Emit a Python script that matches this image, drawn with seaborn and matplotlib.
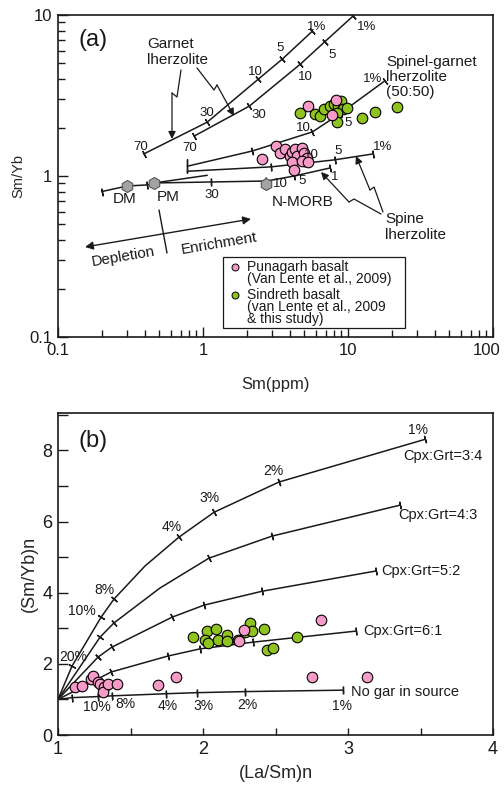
import matplotlib
matplotlib.use("Agg")
import numpy as np
import matplotlib.pyplot as plt
import seaborn as sns
from matplotlib.lines import Line2D
from matplotlib.patches import FancyArrowPatch, Rectangle
from matplotlib.transforms import ScaledTranslation
from matplotlib.ticker import FixedLocator, NullFormatter, FixedFormatter, MultipleLocator

sns.set_theme(style="ticks")
plt.rcParams["font.family"] = ["Liberation Sans", "DejaVu Sans"]

PINK = "#F69AC8"
GREEN = "#8FC31F"
INK = "#1a1a1a"

# ---------------- (a) Sm vs Sm/Yb ----------------
punagarh_sm = [2.57, 3.21, 3.42, 3.65, 3.95, 4.14, 4.34, 4.48, 4.78, 5.01, 5.18,
               4.08, 4.78, 5.34, 4.27, 5.26, 8.21, 7.71]
punagarh_smyb = [1.28, 1.54, 1.39, 1.47, 1.33, 1.41, 1.47, 1.33, 1.49, 1.39, 1.29,
                 1.22, 1.24, 1.22, 1.09, 2.72, 2.97, 2.39]
sindreth_sm = [4.63, 5.88, 6.36, 6.78, 7.46, 7.95, 8.48, 8.89, 9.18, 9.78, 8.34,
               8.34, 12.4, 15.3, 21.7]
sindreth_smyb = [2.46, 2.43, 2.36, 2.61, 2.72, 2.80, 2.72, 2.92, 2.61, 2.64, 2.46,
                 2.16, 2.29, 2.50, 2.68]

reservoir_names = ["DM", "PM", "N-MORB"]
reservoir_sm = [0.30, 0.46, 2.74]
reservoir_smyb = [0.867, 0.905, 0.89]

# melting trajectories (Sm, Sm/Yb); vertices are the marked melt fractions
garnet1_sm = [0.39, 1.07, 2.41, 3.53, 5.69]
garnet1_smyb = [1.37, 2.16, 4.00, 5.33, 7.95]
garnet2_sm = [0.87, 2.09, 4.70, 6.89, 10.9]
garnet2_smyb = [1.77, 2.72, 4.96, 6.80, 9.90]
spgt_sm = [0.78, 2.19, 5.69, 8.75, 17.9]
spgt_smyb = [1.15, 1.43, 1.88, 2.43, 3.89]
spinel_sm = [0.78, 2.96, 5.01, 8.08, 14.8]
spinel_smyb = [1.07, 1.14, 1.20, 1.26, 1.37]
mantle_sm = [0.20, 0.30, 0.41, 0.46, 1.14, 2.74, 4.27, 7.46]
mantle_smyb = [0.80, 0.867, 0.88, 0.905, 0.918, 0.931, 1.00, 1.12]
pm_branch_sm = [0.46, 1.07]
pm_branch_smyb = [0.905, 1.01]

# ---------------- (b) (La/Sm)n vs (Sm/Yb)n ----------------
punagarh_lasm = [1.117, 1.166, 1.228, 1.241, 1.276, 1.290, 1.317, 1.310, 1.345, 1.407,
                 1.690, 1.814, 2.283, 2.248, 2.814, 2.752, 3.131]
punagarh_smybn = [1.35, 1.38, 1.57, 1.66, 1.49, 1.43, 1.35, 1.21, 1.43, 1.43,
                  1.40, 1.63, 2.95, 2.64, 3.23, 1.63, 1.63]
sindreth_lasm = [1.931, 2.028, 2.090, 2.014, 2.034, 2.103, 2.166, 2.166, 2.241, 2.290,
                 2.324, 2.338, 2.421, 2.648, 2.441, 2.483]
sindreth_smybn = [2.75, 2.92, 2.98, 2.67, 2.58, 2.67, 2.81, 2.64, 2.67, 2.89,
                  3.15, 2.92, 2.98, 2.75, 2.39, 2.44]

cg34_lasm = [1.0, 1.097, 1.297, 1.386, 1.600, 1.834, 2.076, 2.524, 3.531]
cg34_smyb = [1.0, 1.94, 3.31, 3.82, 4.75, 5.56, 6.26, 7.11, 8.31]
cg34_ticks = [1, 2, 3, 5, 6, 7, 8]
cg43_lasm = [1.0, 1.290, 1.386, 1.703, 2.041, 2.476, 3.359]
cg43_smyb = [1.0, 2.75, 3.15, 4.13, 4.97, 5.59, 6.46]
cg43_ticks = [1, 2, 4, 5, 6]
cg52_lasm = [1.0, 1.276, 1.372, 1.786, 2.007, 2.407, 3.193]
cg52_smyb = [1.0, 2.19, 2.47, 3.31, 3.65, 4.04, 4.61]
cg52_ticks = [1, 2, 3, 4, 5, 6]
cg61_lasm = [1.0, 1.366, 1.759, 1.979, 2.345, 3.055]
cg61_smyb = [1.0, 1.77, 2.22, 2.42, 2.61, 2.92]
cg61_ticks = [1, 2, 3, 4, 5]
nogar_lasm = [1.0, 1.097, 1.276, 1.372, 1.745, 1.959, 2.290, 2.966]
nogar_smyb = [1.0, 1.05, 1.08, 1.10, 1.16, 1.19, 1.22, 1.26]
nogar_ticks = [1, 2, 3, 4, 5, 6, 7]

W, H = 504, 795
fig = plt.figure(figsize=(W / 100, H / 100), dpi=100)


def F(x, y):
    """pixel position on the page -> figure fraction"""
    return (x / W, 1 - y / H)


ax_a = fig.add_axes([58 / W, 1 - 337 / H, 435 / W, 322 / H])
ax_b = fig.add_axes([58 / W, 1 - 735 / H, 435 / W, 322 / H])

for ax in (ax_a, ax_b):
    for s in ax.spines.values():
        s.set_linewidth(1.2)
        s.set_color(INK)
    ax.tick_params(which="both", direction="in", top=False, right=False,
                   color=INK, width=1.0, labelcolor=INK)

# ---- axes (a) ----
ax_a.set_xscale("log")
ax_a.set_yscale("log")
ax_a.set_xlim(0.1, 100)
ax_a.set_ylim(0.1, 10)
ax_a.xaxis.set_major_locator(FixedLocator([0.1, 1, 10, 100]))
ax_a.xaxis.set_major_formatter(FixedFormatter(["0.1", "1", "10", "100"]))
ax_a.yaxis.set_major_locator(FixedLocator([0.1, 1, 10]))
ax_a.yaxis.set_major_formatter(FixedFormatter(["0.1", "1", "10"]))
ax_a.xaxis.set_minor_formatter(NullFormatter())
ax_a.yaxis.set_minor_formatter(NullFormatter())
ax_a.tick_params(which="major", length=7, labelsize=12, pad=4)
ax_a.tick_params(which="minor", length=5)
ax_a.set_xlabel("Sm(ppm)", fontsize=12, labelpad=14)
ax_a.set_ylabel("Sm/Yb", fontsize=10.5, labelpad=3)
# keep the last x label ("100") inside the page
last = ax_a.get_xticklabels()[-1]
last.set_transform(last.get_transform() + ScaledTranslation(-6 / 100, 0, fig.dpi_scale_trans))

# ---- axes (b) ----
ax_b.set_xlim(1, 4)
ax_b.set_ylim(0, 9.05)
ax_b.xaxis.set_major_locator(MultipleLocator(1))
ax_b.xaxis.set_minor_locator(MultipleLocator(0.5))
ax_b.yaxis.set_major_locator(MultipleLocator(2))
ax_b.yaxis.set_minor_locator(MultipleLocator(1))
ax_b.tick_params(axis="x", which="both", length=5)
ax_b.tick_params(axis="y", which="both", length=7)
ax_b.tick_params(which="major", labelsize=13, pad=4)
ax_b.set_xlabel("(La/Sm)n", fontsize=13, labelpad=5)
ax_b.set_ylabel("(Sm/Yb)n", fontsize=13, labelpad=3)


def curve(ax, xs, ys, ticks, ms=5.5):
    sns.lineplot(x=xs, y=ys, ax=ax, sort=False, estimator=None, color=INK,
                 lw=1.1, zorder=2, legend=False)
    pts = ax.transData.transform(np.column_stack([xs, ys]))
    n = len(xs)
    for i in ticks:
        a, b = max(i - 1, 0), min(i + 1, n - 1)
        d = pts[b] - pts[a]
        ang = np.degrees(np.arctan2(d[1], d[0]))
        ax.plot([xs[i]], [ys[i]], marker=(2, 2, ang), ms=ms, mew=1.0,
                color=INK, zorder=2, linestyle="none")


# model curves in (a)
curve(ax_a, garnet1_sm, garnet1_smyb, range(5))
curve(ax_a, garnet2_sm, garnet2_smyb, range(5))
curve(ax_a, spgt_sm, spgt_smyb, [1, 2, 3, 4])
curve(ax_a, spinel_sm, spinel_smyb, [1, 2, 3, 4])
curve(ax_a, spgt_sm[:1], spgt_smyb[:1], [0], ms=10)
curve(ax_a, mantle_sm, mantle_smyb, [0, 2, 4, 5, 6, 7])
sns.lineplot(x=pm_branch_sm, y=pm_branch_smyb, ax=ax_a, sort=False, estimator=None,
             color=INK, lw=1.1, zorder=2, legend=False)

sns.scatterplot(x=reservoir_sm, y=reservoir_smyb, ax=ax_a, marker="h", s=75,
                color="#a3a3a3", edgecolor="#555555", linewidth=0.8, zorder=4, legend=False)
sns.scatterplot(x=sindreth_sm, y=sindreth_smyb, ax=ax_a, s=58, color=GREEN,
                edgecolor="black", linewidth=0.8, zorder=5, legend=False)
sns.scatterplot(x=punagarh_sm, y=punagarh_smyb, ax=ax_a, s=58, color=PINK,
                edgecolor="black", linewidth=0.8, zorder=6, legend=False)

# model curves in (b)
curve(ax_b, cg34_lasm, cg34_smyb, cg34_ticks)
curve(ax_b, cg43_lasm, cg43_smyb, cg43_ticks)
curve(ax_b, cg52_lasm, cg52_smyb, cg52_ticks)
curve(ax_b, cg61_lasm, cg61_smyb, cg61_ticks)
curve(ax_b, nogar_lasm, nogar_smyb, nogar_ticks)

sns.scatterplot(x=sindreth_lasm, y=sindreth_smybn, ax=ax_b, s=58, color=GREEN,
                edgecolor="black", linewidth=0.8, zorder=5, legend=False)
sns.scatterplot(x=punagarh_lasm, y=punagarh_smybn, ax=ax_b, s=58, color=PINK,
                edgecolor="black", linewidth=0.8, zorder=6, legend=False)


def label(x, y, s, size=9.5, ha="center", va="center", **kw):
    return fig.text(*F(x, y), s, fontsize=size, ha=ha, va=va, color=INK, **kw)


def bolt(points, end, lw=0.9):
    xs, ys = zip(*[F(*p) for p in points])
    fig.add_artist(Line2D(xs, ys, transform=fig.transFigure, color=INK, lw=lw))
    fig.add_artist(FancyArrowPatch(F(*points[-1]), F(*end), transform=fig.transFigure,
                                   arrowstyle="-|>", mutation_scale=11, color=INK,
                                   lw=lw, shrinkA=0, shrinkB=0))


# ---- panel (a) annotation ----
label(93, 40, "(a)", size=17)
label(147, 52, "Garnet\nlherzolite", size=11, ha="left", linespacing=1.2)
label(386, 77, "Spinel-garnet\nlherzolite\n(50:50)", size=11, ha="left", linespacing=1.1)
label(385, 227, "Spine\nlherzolite", size=11, ha="left", linespacing=1.15)
bolt([(181, 70), (177, 97), (172, 93)], (172, 139))
bolt([(197, 68), (214, 90), (217, 85)], (234, 116))
bolt([(381, 214), (354, 199), (349, 202)], (321, 172))
bolt([(383, 212), (374, 187), (370, 190)], (356, 156))

for txt, pos in zip(["70", "30", "10", "5", "1%"],
                    [(141, 147), (207, 113), (255, 72), (280, 48), (317, 27)]):
    label(*pos, txt)
for txt, pos in zip(["70", "30", "10", "5", "1%"],
                    [(190, 148), (259, 115), (305, 77), (332, 55), (367, 27)]):
    label(*pos, txt)
for txt, pos in zip(["10", "5", "1%"], [(303, 128), (348, 123), (373, 79)]):
    label(*pos, txt)
for txt, pos in zip(["10", "5", "1%"], [(311, 155), (338, 151), (383, 147)]):
    label(*pos, txt, zorder=1)
for txt, pos in zip(["30", "10", "5", "1"], [(212, 195), (280, 184), (302, 181), (335, 177)]):
    label(*pos, txt)

for name, pos in zip(reservoir_names, [(125, 199), (168, 197), (303, 202)]):
    label(*pos, name, size=11)

fig.add_artist(FancyArrowPatch(F(85, 247), F(251, 219), transform=fig.transFigure,
                               arrowstyle="<|-|>", mutation_scale=12, color=INK, lw=1.0,
                               shrinkA=0, shrinkB=0))
fig.add_artist(Line2D(*zip(F(159, 210), F(167, 253)), transform=fig.transFigure,
                      color=INK, lw=1.0))
label(123, 257, "Depletion", size=11, rotation=9.6, rotation_mode="anchor")
label(219, 244, "Enrichment", size=11, rotation=9.6, rotation_mode="anchor")

# key box
x0, y0 = F(223, 328)
x1, y1 = F(405, 257)
fig.add_artist(Rectangle((x0, y0), x1 - x0, y1 - y0, transform=fig.transFigure,
                         facecolor="white", edgecolor=INK, lw=0.9, zorder=7))
for pos, col in [((235, 267), PINK), ((235, 295), GREEN)]:
    fig.add_artist(Line2D([F(*pos)[0]], [F(*pos)[1]], transform=fig.transFigure,
                          marker="o", ms=5, mfc=col, mec="black", mew=0.7,
                          ls="none", zorder=8))
label(247, 260, "Punagarh basalt\n(Van Lente et al., 2009)", size=10, ha="left",
      va="top", linespacing=0.82, zorder=8)
label(247, 288, "Sindreth basalt\n(van Lente et al., 2009\n& this study)", size=10,
      ha="left", va="top", linespacing=0.82, zorder=8)

# ---- panel (b) annotation ----
label(93, 441, "(b)", size=17)
for txt, pos in zip(["1%", "2%", "3%", "4%", "8%", "10%", "20%"],
                    [(418, 430), (273, 471), (209, 498), (172, 527), (104, 590),
                     (82, 611), (73, 657)]):
    label(*pos, txt, size=10)
for txt, pos in zip(["10%", "8%", "4%", "3%", "2%", "1%"],
                    [(97, 707), (125, 704), (168, 706), (203, 706), (247, 705), (342, 706)]):
    label(*pos, txt, size=10)
for txt, pos in zip(["Cpx:Grt=3:4", "Cpx:Grt=4:3", "Cpx:Grt=5:2", "Cpx:Grt=6:1",
                     "No gar in source"],
                    [(403, 456), (398, 515), (381, 571), (363, 631), (351, 692)]):
    label(*pos, txt, size=10.5, ha="left")

fig.savefig("out.png", dpi=100)
